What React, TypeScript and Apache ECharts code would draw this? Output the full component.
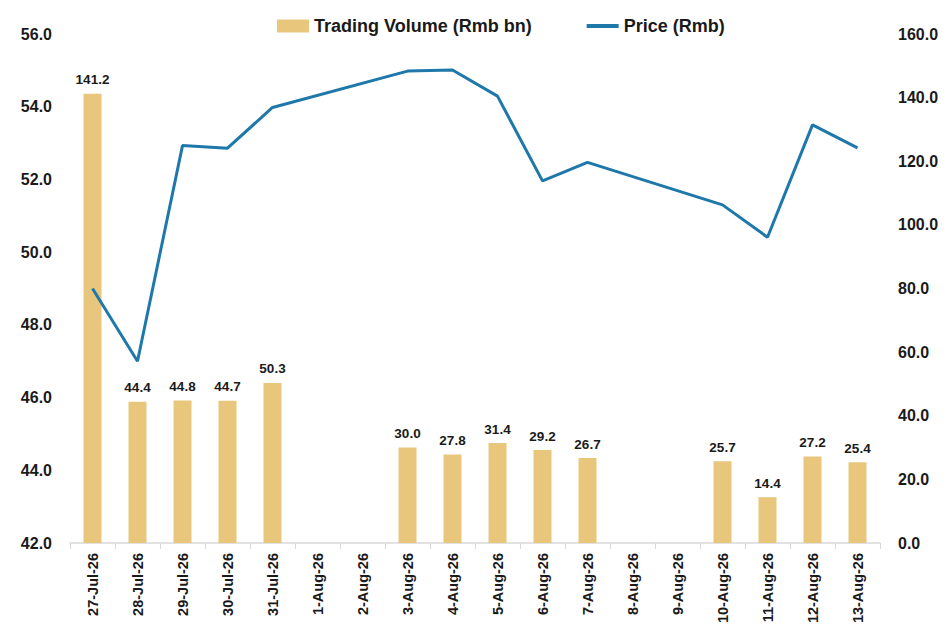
import { useEffect, useRef } from "react"
import * as echarts from "echarts"

const dates = [
  "27-Jul-26", "28-Jul-26", "29-Jul-26", "30-Jul-26", "31-Jul-26",
  "1-Aug-26", "2-Aug-26", "3-Aug-26", "4-Aug-26", "5-Aug-26",
  "6-Aug-26", "7-Aug-26", "8-Aug-26", "9-Aug-26", "10-Aug-26",
  "11-Aug-26", "12-Aug-26", "13-Aug-26",
]

// Trading Volume (Rmb bn), right axis
const volume = [
  141.2, 44.4, 44.8, 44.7, 50.3,
  null, null, 30.0, 27.8, 31.4,
  29.2, 26.7, null, null, 25.7,
  14.4, 27.2, 25.4,
]

// Price (Rmb), left axis
const price = [
  49.0, 47.0, 52.93, 52.86, 53.98,
  null, null, 54.98, 55.01, 54.29,
  51.96, 52.47, null, null, 51.3,
  50.41, 53.5, 52.87,
]

const BAR_COLOR = "#E8C77D"
const LINE_COLOR = "#1E78AA"
const TEXT_COLOR = "#1a1a1a"
const FONT = "'Liberation Sans', Arial, sans-serif"

export default function App() {
  const chartRef = useRef<HTMLDivElement>(null)

  useEffect(() => {
    if (!chartRef.current) return
    const chart = echarts.init(chartRef.current, null, { renderer: "svg" })

    chart.setOption({
      animation: false,
      textStyle: { fontFamily: FONT },
      legend: {
        top: 12,
        left: 272,
        itemGap: 55,
        itemWidth: 32,
        itemHeight: 13,
        textStyle: { fontSize: 18, fontWeight: "bold", color: TEXT_COLOR, fontFamily: FONT },
        data: [
          { name: "Trading Volume (Rmb bn)", icon: "rect" },
          { name: "Price (Rmb)", icon: "path://M0,0 L32,0 L32,4 L0,4 Z" },
        ],
      },
      grid: { left: 70, right: 70, top: 34, bottom: 93 },
      xAxis: {
        type: "category",
        data: dates,
        boundaryGap: true,
        axisLine: { lineStyle: { color: "#d9d9d9", width: 1.5 } },
        axisTick: { show: true, length: 6, lineStyle: { color: "#d9d9d9" } },
        axisLabel: {
          rotate: 90,
          interval: 0,
          fontSize: 14.5,
          fontWeight: "bold",
          color: TEXT_COLOR,
          margin: 10,
        },
      },
      yAxis: [
        {
          type: "value",
          min: 42,
          max: 56,
          interval: 2,
          position: "left",
          axisLine: { show: false },
          axisTick: { show: false },
          splitLine: { show: false },
          axisLabel: {
            formatter: (v: number) => v.toFixed(1),
            fontSize: 16,
            fontWeight: "bold",
            color: TEXT_COLOR,
            margin: 18,
          },
        },
        {
          type: "value",
          min: 0,
          max: 160,
          interval: 20,
          position: "right",
          axisLine: { show: false },
          axisTick: { show: false },
          splitLine: { show: false },
          axisLabel: {
            formatter: (v: number) => v.toFixed(1),
            fontSize: 16,
            fontWeight: "bold",
            color: TEXT_COLOR,
            margin: 18,
          },
        },
      ],
      series: [
        {
          name: "Trading Volume (Rmb bn)",
          type: "bar",
          yAxisIndex: 1,
          data: volume,
          barWidth: 18,
          itemStyle: { color: BAR_COLOR },
          label: {
            show: true,
            position: "top",
            distance: 7,
            formatter: (p: any) => Number(p.value).toFixed(1),
            fontSize: 13.5,
            fontWeight: "bold",
            color: TEXT_COLOR,
          },
        },
        {
          name: "Price (Rmb)",
          type: "line",
          yAxisIndex: 0,
          data: price,
          connectNulls: true,
          symbol: "none",
          lineStyle: { color: LINE_COLOR, width: 3 },
          itemStyle: { color: LINE_COLOR },
        },
      ],
    })

    return () => {
      chart.dispose()
    }
  }, [])

  return (
    <div
      ref={chartRef}
      style={{ width: 950, height: 636, position: "absolute", left: 0, top: 0 }}
    />
  )
}
